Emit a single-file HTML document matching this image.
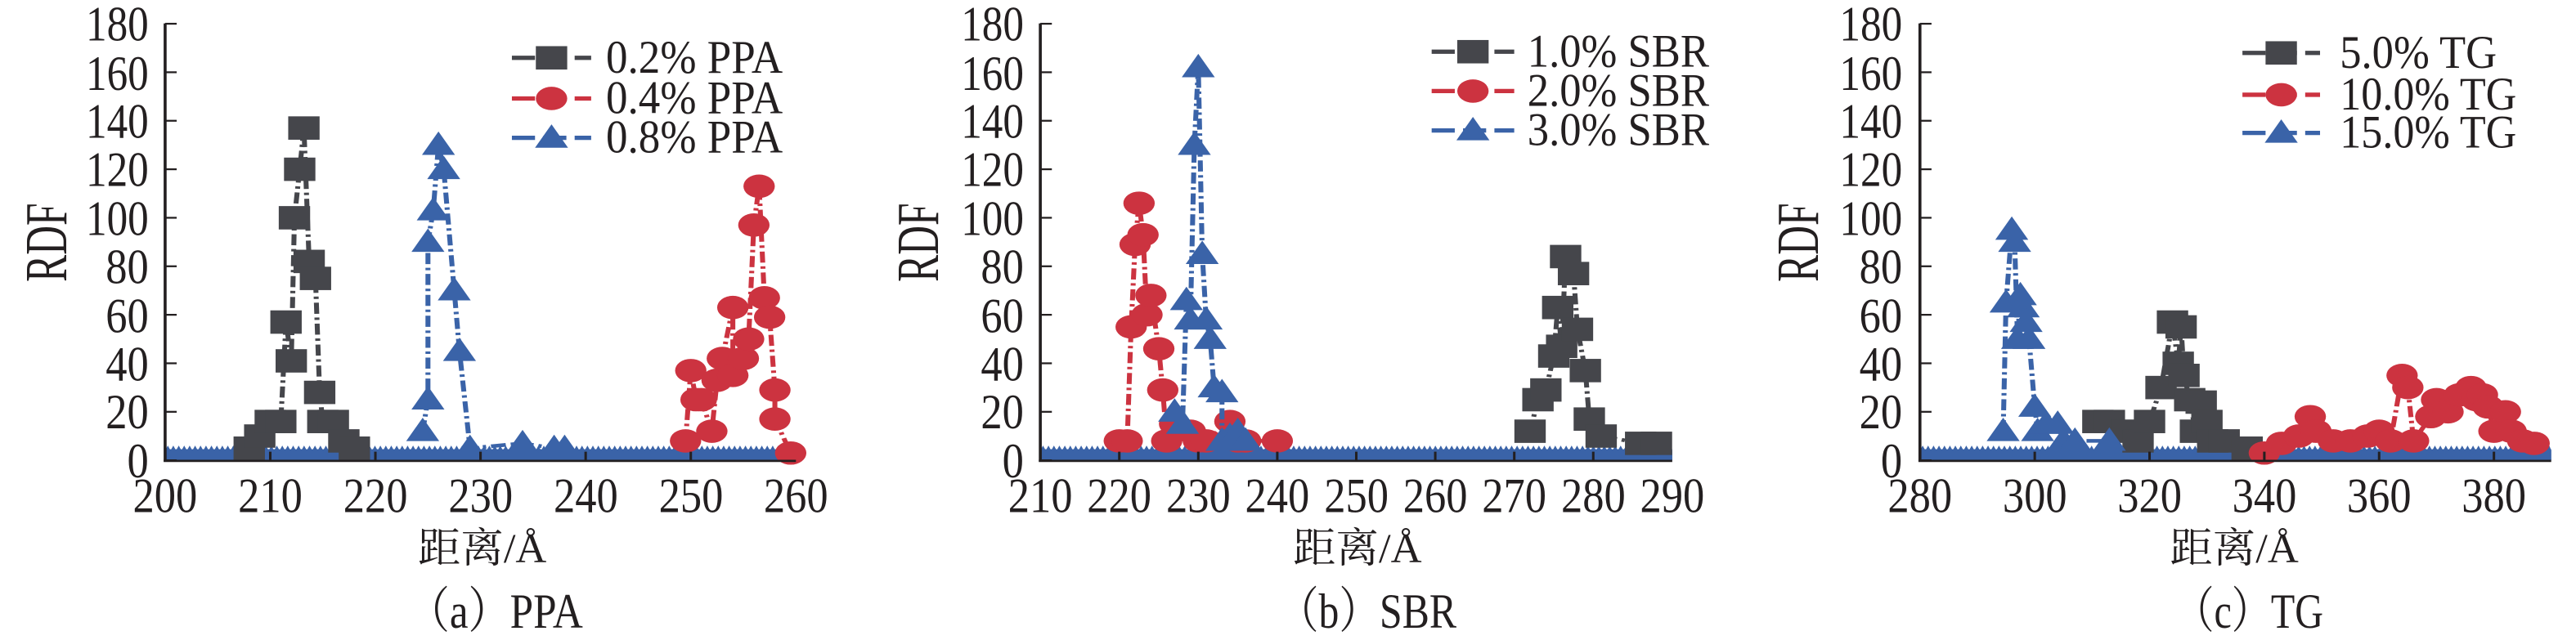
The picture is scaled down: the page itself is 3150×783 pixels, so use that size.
<!DOCTYPE html>
<html><head><meta charset="utf-8"><style>
html,body{margin:0;padding:0;background:#fff;}
svg{display:block;}
text{font-family:"Liberation Serif","Noto Serif CJK SC",serif;fill:#231f20;}
</style></head><body>
<svg id="s" width="3150" height="783" viewBox="0 0 1560 520" preserveAspectRatio="none" xmlns="http://www.w3.org/2000/svg">
<g id="plots"></g>
<g font-size="40">
<text x="90" y="388" text-anchor="end" textLength="13" lengthAdjust="spacingAndGlyphs">0</text>
<text x="90" y="348" text-anchor="end" textLength="26" lengthAdjust="spacingAndGlyphs">20</text>
<text x="90" y="309" text-anchor="end" textLength="26" lengthAdjust="spacingAndGlyphs">40</text>
<text x="90" y="270" text-anchor="end" textLength="26" lengthAdjust="spacingAndGlyphs">60</text>
<text x="90" y="230" text-anchor="end" textLength="26" lengthAdjust="spacingAndGlyphs">80</text>
<text x="90" y="191" text-anchor="end" textLength="38" lengthAdjust="spacingAndGlyphs">100</text>
<text x="90" y="151" text-anchor="end" textLength="38" lengthAdjust="spacingAndGlyphs">120</text>
<text x="90" y="112" text-anchor="end" textLength="38" lengthAdjust="spacingAndGlyphs">140</text>
<text x="90" y="73" text-anchor="end" textLength="38" lengthAdjust="spacingAndGlyphs">160</text>
<text x="90" y="33" text-anchor="end" textLength="38" lengthAdjust="spacingAndGlyphs">180</text>
<text x="620" y="388" text-anchor="end" textLength="13" lengthAdjust="spacingAndGlyphs">0</text>
<text x="620" y="348" text-anchor="end" textLength="26" lengthAdjust="spacingAndGlyphs">20</text>
<text x="620" y="309" text-anchor="end" textLength="26" lengthAdjust="spacingAndGlyphs">40</text>
<text x="620" y="270" text-anchor="end" textLength="26" lengthAdjust="spacingAndGlyphs">60</text>
<text x="620" y="230" text-anchor="end" textLength="26" lengthAdjust="spacingAndGlyphs">80</text>
<text x="620" y="191" text-anchor="end" textLength="38" lengthAdjust="spacingAndGlyphs">100</text>
<text x="620" y="151" text-anchor="end" textLength="38" lengthAdjust="spacingAndGlyphs">120</text>
<text x="620" y="112" text-anchor="end" textLength="38" lengthAdjust="spacingAndGlyphs">140</text>
<text x="620" y="73" text-anchor="end" textLength="38" lengthAdjust="spacingAndGlyphs">160</text>
<text x="620" y="33" text-anchor="end" textLength="38" lengthAdjust="spacingAndGlyphs">180</text>
<text x="1152" y="388" text-anchor="end" textLength="13" lengthAdjust="spacingAndGlyphs">0</text>
<text x="1152" y="348" text-anchor="end" textLength="26" lengthAdjust="spacingAndGlyphs">20</text>
<text x="1152" y="309" text-anchor="end" textLength="26" lengthAdjust="spacingAndGlyphs">40</text>
<text x="1152" y="270" text-anchor="end" textLength="26" lengthAdjust="spacingAndGlyphs">60</text>
<text x="1152" y="230" text-anchor="end" textLength="26" lengthAdjust="spacingAndGlyphs">80</text>
<text x="1152" y="191" text-anchor="end" textLength="38" lengthAdjust="spacingAndGlyphs">100</text>
<text x="1152" y="151" text-anchor="end" textLength="38" lengthAdjust="spacingAndGlyphs">120</text>
<text x="1152" y="112" text-anchor="end" textLength="38" lengthAdjust="spacingAndGlyphs">140</text>
<text x="1152" y="73" text-anchor="end" textLength="38" lengthAdjust="spacingAndGlyphs">160</text>
<text x="1152" y="33" text-anchor="end" textLength="38" lengthAdjust="spacingAndGlyphs">180</text>
</g>
<g font-size="40" text-anchor="middle">
<text x="100" y="416" textLength="39" lengthAdjust="spacingAndGlyphs">200</text>
<text x="163.7" y="416" textLength="39" lengthAdjust="spacingAndGlyphs">210</text>
<text x="227.4" y="416" textLength="39" lengthAdjust="spacingAndGlyphs">220</text>
<text x="291.1" y="416" textLength="39" lengthAdjust="spacingAndGlyphs">230</text>
<text x="354.8" y="416" textLength="39" lengthAdjust="spacingAndGlyphs">240</text>
<text x="418.5" y="416" textLength="39" lengthAdjust="spacingAndGlyphs">250</text>
<text x="482" y="416" textLength="39" lengthAdjust="spacingAndGlyphs">260</text>
<text x="630" y="416" textLength="39" lengthAdjust="spacingAndGlyphs">210</text>
<text x="677.8" y="416" textLength="39" lengthAdjust="spacingAndGlyphs">220</text>
<text x="725.7" y="416" textLength="39" lengthAdjust="spacingAndGlyphs">230</text>
<text x="773.5" y="416" textLength="39" lengthAdjust="spacingAndGlyphs">240</text>
<text x="821.4" y="416" textLength="39" lengthAdjust="spacingAndGlyphs">250</text>
<text x="869.2" y="416" textLength="39" lengthAdjust="spacingAndGlyphs">260</text>
<text x="917" y="416" textLength="39" lengthAdjust="spacingAndGlyphs">270</text>
<text x="964.9" y="416" textLength="39" lengthAdjust="spacingAndGlyphs">280</text>
<text x="1012.7" y="416" textLength="39" lengthAdjust="spacingAndGlyphs">290</text>
<text x="1162.7" y="416" textLength="39" lengthAdjust="spacingAndGlyphs">280</text>
<text x="1232.3" y="416" textLength="39" lengthAdjust="spacingAndGlyphs">300</text>
<text x="1301.8" y="416" textLength="39" lengthAdjust="spacingAndGlyphs">320</text>
<text x="1371.3" y="416" textLength="39" lengthAdjust="spacingAndGlyphs">340</text>
<text x="1440.8" y="416" textLength="39" lengthAdjust="spacingAndGlyphs">360</text>
<text x="1510.3" y="416" textLength="39" lengthAdjust="spacingAndGlyphs">380</text>
<text x="292" y="457" font-size="34" textLength="78" lengthAdjust="spacingAndGlyphs">距离/Å</text>
<text x="822" y="457" font-size="34" textLength="78" lengthAdjust="spacingAndGlyphs">距离/Å</text>
<text x="1353" y="457" font-size="34" textLength="78" lengthAdjust="spacingAndGlyphs">距离/Å</text>
<text x="300" y="510" font-size="40" textLength="106" lengthAdjust="spacingAndGlyphs">（a）PPA</text>
<text x="828" y="510" font-size="40" textLength="108" lengthAdjust="spacingAndGlyphs">（b）SBR</text>
<text x="1362" y="510" font-size="40" textLength="90" lengthAdjust="spacingAndGlyphs">（c）TG</text>
<text transform="translate(40,197) rotate(-90)" font-size="36" textLength="64" lengthAdjust="spacingAndGlyphs">RDF</text>
<text transform="translate(568,197) rotate(-90)" font-size="36" textLength="64" lengthAdjust="spacingAndGlyphs">RDF</text>
<text transform="translate(1101,197) rotate(-90)" font-size="36" textLength="64" lengthAdjust="spacingAndGlyphs">RDF</text>
</g>
<g font-size="38">
<text x="367" y="59" textLength="107" lengthAdjust="spacingAndGlyphs">0.2% PPA</text>
<text x="367" y="92" textLength="107" lengthAdjust="spacingAndGlyphs">0.4% PPA</text>
<text x="367" y="124" textLength="107" lengthAdjust="spacingAndGlyphs">0.8% PPA</text>
<text x="925" y="54" textLength="110" lengthAdjust="spacingAndGlyphs">1.0% SBR</text>
<text x="925" y="86" textLength="110" lengthAdjust="spacingAndGlyphs">2.0% SBR</text>
<text x="925" y="118" textLength="110" lengthAdjust="spacingAndGlyphs">3.0% SBR</text>
<text x="1417" y="55" textLength="95" lengthAdjust="spacingAndGlyphs">5.0% TG</text>
<text x="1417" y="89" textLength="107" lengthAdjust="spacingAndGlyphs">10.0% TG</text>
<text x="1417" y="120" textLength="107" lengthAdjust="spacingAndGlyphs">15.0% TG</text>
</g>
</svg>
<script>
var NS="http://www.w3.org/2000/svg",G=document.getElementById("plots");
var K="#45464b",R="#cc3340",B="#3a63a8";
function el(t,a){var e=document.createElementNS(NS,t);for(var k in a)e.setAttribute(k,a[k]);G.appendChild(e);return e;}
function Y(v){return 374-v*1.9706;}
function marker(type,x,y,c){
 if(type=="s")el("rect",{x:x-9.5,y:y-9.5,width:19,height:19,fill:c});
 else if(type=="c")el("circle",{cx:x,cy:y,r:9.5,fill:c});
 else el("polygon",{points:(x-10)+","+(y+8)+" "+(x+10)+","+(y+8)+" "+x+","+(y-11),fill:c});
}
function panel(ax0,ax1,xmin,xmax,xend,ticks,series,leg){
 var X=function(x){return ax0+(x-xmin)/(xmax-xmin)*(ax1-ax0);};
 el("rect",{x:ax0,y:365,width:xend-ax0,height:9,fill:B});
 var p="";for(var x=ax0;x<xend;x+=3.3){p+=x+",366 "+(x+1.65)+",362 ";}
 p+=xend+",366 "+xend+",374 "+ax0+",374";
 el("polygon",{points:p,fill:B});
 series.forEach(function(s){
  var pts=s.d.map(function(d){return X(d[0])+","+Y(d[1]);}).join(" ");
  el("polyline",{points:pts,fill:"none",stroke:s.c,"stroke-width":3,"stroke-dasharray":"9 3 2 3"});
  s.d.forEach(function(d){marker(s.t,X(d[0]),Y(d[1]),s.c);});
 });
 el("line",{x1:ax0,y1:19,x2:ax0,y2:375,stroke:"#231f20","stroke-width":1.8});
 el("line",{x1:ax0-0.9,y1:374.5,x2:xend,y2:374.5,stroke:"#231f20","stroke-width":1.8});
 for(var i=0;i<=9;i++)el("line",{x1:ax0,y1:Y(i*20),x2:ax0+7,y2:Y(i*20),stroke:"#231f20","stroke-width":1.5});
 ticks.forEach(function(t){el("line",{x1:X(t),y1:374,x2:X(t),y2:367,stroke:"#231f20","stroke-width":1.5});});
 leg.rows.forEach(function(r,i){
  el("line",{x1:leg.x0,y1:r[1],x2:leg.x1,y2:r[1],stroke:r[0],"stroke-width":3.5,"stroke-dasharray":"14 5"});
  marker(r[2],(leg.x0+leg.x1)/2,r[1],r[0]);
 });
}
panel(100,482,200,260,482,[210,220,230,240,250],[
 {t:"s",c:K,d:[[208,5],[209,10],[210,16],[211,16],[211.5,57],[212,41],[212.3,100],[212.8,120],[213.2,137],[213.7,82],[214.3,75],[214.7,28],[215,16],[216,16],[217,8],[218,5]]},
 {t:"c",c:R,d:[[249.5,8],[250,37],[250.5,25],[251,25],[252,12],[252.5,33],[253,42],[254,63],[254,35],[255,42],[255.5,50],[256,97],[256.5,113],[257,67],[257.5,59],[258,29],[258,17],[259.5,3]]},
 {t:"t",c:B,d:[[224.5,12],[225,25],[225,90],[225.5,103],[226,130],[226.5,120],[227.5,70],[228,45],[229,5],[234,7],[237,5],[238,5]]}
],{x0:310,x1:358,rows:[[K,47,"s"],[R,80,"c"],[B,112,"t"]]});
panel(630,1012.7,210,290,1012.7,[220,230,240,250,260,270,280],[
 {t:"s",c:K,d:[[272,12],[273,25],[274,29],[275,43],[275.5,63],[276,47],[276.5,84],[277.5,77],[278,54],[279,37],[279.5,17],[281,10],[286,7],[288,7]]},
 {t:"c",c:R,d:[[220,8],[221,8],[221.5,55],[222,89],[222.5,106],[223,93],[223.5,60],[224,68],[225,46],[225.5,29],[226,8],[227,15],[229,12],[230,8],[231,8],[234,16],[235,8],[236,8],[240,8]]},
 {t:"t",c:B,d:[[227,20],[228,15],[228.5,66],[229,58],[229.5,130],[230,162],[230.5,85],[231,58],[231.5,50],[232,30],[233,28],[233,8],[234,10],[235,12],[236,8]]}
],{x0:867,x1:917,rows:[[K,42,"s"],[R,74,"c"],[B,106,"t"]]});
panel(1162.7,1510.3,280,380,1545,[300,320,340,360,380],[
 {t:"s",c:K,d:[[311,16],[313,16],[316,12],[318,8],[320,16],[322,30],[324,57],[325,40],[325.5,55],[326,35],[327,25],[328,12],[329,24],[330,16],[331,8],[333,8],[337,5]]},
 {t:"c",c:R,d:[[340,3],[343,7],[346,10],[348,18],[349,12],[352,8],[355,8],[358,10],[360,12],[362,8],[364,35],[365,30],[366,8],[369,18],[370,25],[372,20],[374,27],[376,30],[377,25],[378,27],[379,22],[380,12],[382,20],[383,12],[385,8],[387,7]]},
 {t:"t",c:B,d:[[294.5,12],[295,65],[296,95],[296.5,90],[297,50],[297.5,68],[298,63],[298.5,57],[299,50],[300,22],[300.5,12],[302,15],[304,15],[305,8],[307,8],[313,8]]}
],{x0:1358,x1:1405,rows:[[K,43,"s"],[R,77,"c"],[B,108,"t"]]});
</script>
</body></html>
